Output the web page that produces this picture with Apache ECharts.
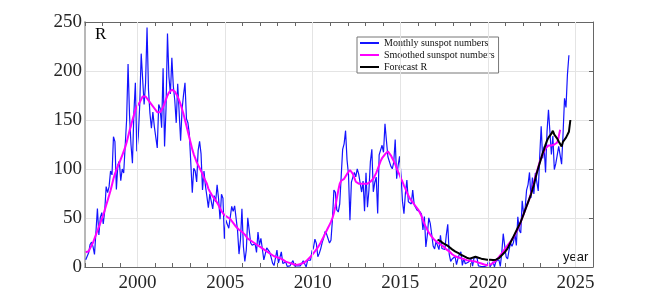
<!DOCTYPE html>
<html><head><meta charset="utf-8">
<script src="https://cdn.jsdelivr.net/npm/echarts@6/dist/echarts.min.js"></script>
<style>html,body{margin:0;padding:0;background:#fff}#c{width:654px;height:301px}</style>
</head><body><div id="c"></div>
<script>
// ---- data ----
const startYear = 1997;            // monthly & smoothed start in Jan 1997
const seriesNames = ['Monthly sunspot numbers', 'Smoothed sunspot numbers', 'Forecast R'];
const xTickLabels = [2000, 2005, 2010, 2015, 2020, 2025];
const monthly = [
  7.4, 11.0, 14.5, 23.0, 25.4, 20.8, 12.9, 35.7, 59.7, 32.8, 50.7, 55.5,          // 1997
  44.0, 57.0, 82.0, 76.0, 82.0, 98.0, 94.0, 133.0, 128.0, 79.0, 104.0, 108.0,     // 1998
  88.0, 100.0, 96.0, 95.0, 150.0, 207.0, 155.0, 125.0, 106.0, 158.0, 188.0, 118.0,// 1999
  133.1, 165.7, 217.7, 191.5, 165.9, 188.0, 244.3, 180.5, 156.7, 141.6, 158.1, 143.3, // 2000
  142.6, 121.5, 165.8, 161.7, 142.1, 202.9, 123.0, 161.5, 238.2, 194.1, 176.6, 213.4, // 2001
  184.6, 170.2, 147.1, 186.9, 187.5, 128.8, 161.0, 175.6, 187.9, 151.2, 147.2, 135.3, // 2002
  133.5, 75.7, 100.7, 97.9, 86.8, 118.7, 128.3, 115.4, 78.5, 97.8, 82.9, 72.2,    // 2003
  60.6, 74.6, 74.8, 59.2, 72.8, 66.5, 83.8, 69.7, 48.8, 74.2, 70.1, 28.9,         // 2004
  48.1, 43.5, 39.6, 38.7, 61.9, 56.8, 62.4, 60.5, 37.2, 13.2, 27.5, 59.3,         // 2005
  20.9, 5.7, 17.3, 50.3, 37.2, 24.5, 22.2, 20.8, 23.7, 14.9, 35.7, 22.3,          // 2006
  29.3, 18.4, 7.2, 5.4, 19.5, 21.3, 15.1, 9.8, 4.0, 1.5, 2.8, 17.3,               // 2007
  4.1, 2.9, 15.5, 3.6, 4.6, 5.2, 0.6, 0.3, 1.2, 4.2, 6.6, 1.0,                    // 2008
  1.3, 1.2, 0.6, 1.2, 2.9, 6.3, 5.5, 0.0, 7.1, 7.7, 6.9, 16.3,                    // 2009
  19.5, 28.5, 24.0, 10.4, 13.9, 18.8, 25.2, 29.6, 36.4, 33.6, 34.4, 24.5,         // 2010
  27.3, 48.3, 78.6, 76.1, 58.2, 56.1, 64.5, 65.8, 120.1, 125.7, 139.1, 109.3,     // 2011
  94.4, 47.8, 86.6, 85.9, 96.5, 92.0, 100.1, 94.8, 93.7, 76.5, 87.6, 56.8,        // 2012
  96.1, 60.9, 78.3, 107.3, 120.2, 76.7, 86.2, 91.8, 54.5, 114.4, 113.9, 124.2,    // 2013
  117.0, 146.1, 128.7, 112.5, 112.5, 102.9, 100.2, 106.9, 130.0, 90.0, 103.6, 112.9, // 2014
  93.0, 66.7, 54.5, 75.3, 88.8, 66.5, 65.8, 64.4, 78.6, 63.6, 62.2, 58.0,         // 2015
  57.0, 56.4, 54.1, 37.9, 51.5, 20.5, 32.4, 50.2, 44.6, 33.4, 21.4, 18.5,         // 2016
  26.1, 26.4, 17.7, 32.3, 18.9, 19.2, 17.8, 32.6, 43.6, 13.2, 5.7, 8.2,           // 2017
  6.8, 10.7, 2.5, 8.9, 13.1, 15.6, 1.6, 8.7, 3.3, 4.9, 4.9, 3.1,                  // 2018
  7.7, 0.8, 9.4, 9.1, 9.9, 1.2, 0.9, 0.5, 1.1, 0.4, 0.5, 1.5,                     // 2019
  6.2, 0.2, 1.5, 5.2, 0.2, 5.8, 6.1, 7.5, 0.6, 14.4, 34.0, 21.8,                  // 2020
  10.4, 8.2, 17.2, 24.5, 21.2, 25.0, 34.3, 22.0, 51.3, 37.4, 34.8, 67.5,          // 2021
  54.0, 59.7, 78.5, 84.1, 96.5, 70.5, 91.4, 74.6, 96.0, 95.5, 77.6, 113.1,        // 2022
  143.6, 110.9, 122.8, 96.4, 137.9, 160.5, 159.1, 114.8, 133.6, 99.4, 105.4, 114.2, // 2023
  123.0, 124.7, 104.9, 136.5, 172.1, 162.9, 196.6, 216.0                          // 2024
];
const smoothed = [
  15, 15, 16, 19, 22, 25, 29, 33, 37, 41, 45, 49,            // 1997
  53, 58, 63, 68, 73, 78, 84, 90, 95, 99, 103, 106,          // 1998
  110, 114, 118, 122, 127, 133, 139, 144, 150, 155, 160, 164,// 1999
  166, 168, 171, 174, 175, 174, 172, 170, 168, 166, 164, 162,// 2000
  160, 158, 157, 158, 160, 163, 167, 171, 175, 178, 180, 181,// 2001
  180, 179, 177, 174, 170, 166, 161, 156, 150, 144, 138, 132,// 2002
  126, 120, 115, 111, 107, 104, 101, 98, 95, 91, 88, 85,     // 2003
  80, 77, 75, 72, 70, 68, 66, 63, 60, 57, 55, 53,            // 2004
  52, 51, 50, 49, 47, 45, 43, 41, 39, 38, 37, 36,            // 2005
  35, 33, 31, 29, 28, 27, 26, 25, 24, 23, 22, 21,            // 2006
  20, 19, 18, 17, 16, 15, 14, 13, 12, 11, 10.5, 10,          // 2007
  9.5, 9, 8.5, 7.5, 6.5, 5.5, 5, 4.5, 4, 3.5, 3, 2.5,        // 2008
  2.2, 2.2, 2.5, 3, 3.5, 4, 5, 6, 7.5, 9, 10.5, 12,          // 2009
  14, 16, 18, 20, 22.5, 25, 28, 31, 34, 37, 40, 43,          // 2010
  46, 50, 55, 62, 70, 78, 85, 88, 89, 90, 92, 95,            // 2011
  97, 99, 98, 95, 91, 87, 85, 85, 85, 85, 85, 85,            // 2012
  85, 85, 86, 87, 88, 90, 92, 96, 100, 104, 108, 111,        // 2013
  113, 115, 116, 118, 117, 114, 111, 108, 105, 101, 97, 94,  // 2014
  90, 87, 83, 80, 76, 73, 70, 68, 66, 64, 62, 60,            // 2015
  58, 56, 52, 48, 44, 41, 38, 35, 33, 31, 29, 27.5,          // 2016
  26, 25, 24, 23, 22, 21, 19, 18, 17, 16, 14.5, 13,          // 2017
  12, 11, 10.5, 10, 9.5, 9, 8.5, 8, 7.5, 7, 6.8, 6.5,        // 2018
  6.2, 6, 5.8, 5.5, 5, 4.5, 4, 3.5, 3, 2.5, 2, 1.8,          // 2019
  2, 2.5, 3, 4, 5, 6.5, 8, 10, 12, 14, 16, 18,               // 2020
  20, 22, 24, 26, 28, 30, 33, 36, 39, 42, 46, 50,            // 2021
  54, 58, 62, 66, 70, 75, 80, 86, 92, 97, 102, 107,          // 2022
  111, 115, 118, 121, 123, 124, 124, 124, 124, 125, 125, 127,// 2023
  133, 140                                                   // 2024
];
const forecastStartYear = 2017, forecastStartMonth = 2;   // Feb 2017
const forecast = [
  28, 27, 26.5, 25, 24, 23, 22.5, 21, 20.5, 19, 18,          // 2017 (Feb-Dec)
  17, 16, 15, 14.5, 13.5, 12.5, 12, 11, 10, 9.5, 9, 8.5,     // 2018
  9, 9.5, 10, 10.5, 10, 9.5, 9, 8.5, 8, 8, 8, 7.5,           // 2019
  7.5, 7.5, 7.3, 7.2, 7.2, 7.5, 8, 9, 10.5, 12, 13.5, 15,    // 2020
  17, 19, 22, 25, 28, 31, 34, 37, 40, 43, 46, 50,            // 2021
  54, 58, 62, 66, 70, 74, 79, 84, 90, 96, 101, 106,          // 2022
  111, 116, 120, 125, 129, 132, 134, 136, 139, 135, 137, 131,// 2023
  128, 126, 123, 128, 126, 132, 130, 138, 150                // 2024 (Jan-Sep)
];

// ---- build ----
function toPairs(arr, y0, m0) {
  return arr.map((v, i) => [y0 + (m0 - 1 + i + 0.5) / 12, v]);
}
const serif = 'Liberation Serif, Times New Roman, serif';
const chart = echarts.init(document.getElementById('c'), null, {renderer: 'canvas'});
const xCommon = {
  type: 'value', min: 1997, max: 2026, interval: 1,
  axisLine: {show: true, onZero: false, lineStyle: {color: '#666', width: 1}},
  axisTick: {show: true, inside: true, length: 4, lineStyle: {color: '#666'}},
  splitLine: {show: false}
};
chart.setOption({
  animation: false,
  backgroundColor: '#fff',
  grid: {left: 85, top: 22, width: 508, height: 245, containLabel: false},
  title: {text: 'R', left: 95, top: 26, padding: 0,
    textStyle: {fontFamily: serif, fontSize: 17, fontWeight: 'normal', color: '#000'}},
  legend: {
    orient: 'vertical', left: 357, top: 37, padding: [0, 4, 0, 3], itemGap: 0,
    itemWidth: 19, itemHeight: 2, icon: 'rect', backgroundColor: '#fff', borderColor: '#777', borderWidth: 1,
    borderRadius: 0, selectedMode: false, data: seriesNames,
    textStyle: {fontFamily: serif, fontSize: 10, color: '#111', lineHeight: 12}
  },
  xAxis: [
    Object.assign({}, xCommon, {position: 'bottom',
      axisLabel: {show: true, margin: 7, fontFamily: serif, fontSize: 19, color: '#262626',
        formatter: v => xTickLabels.indexOf(Math.round(v)) >= 0 ? String(Math.round(v)) : ''}}),
    Object.assign({}, xCommon, {position: 'top', axisLabel: {show: false}})
  ],
  yAxis: [
    {type: 'value', min: 0, max: 250, interval: 50, position: 'left',
      axisLine: {show: true, lineStyle: {color: '#b8b8b8', width: 2}},
      axisTick: {show: false},
      axisLabel: {margin: 3, fontFamily: serif, fontSize: 19, color: '#262626'},
      splitLine: {show: true, lineStyle: {color: '#e4e4e4', width: 1}}},
    {type: 'value', min: 0, max: 250, interval: 50, position: 'right',
      axisLine: {show: true, lineStyle: {color: '#666', width: 1}},
      axisTick: {show: true, inside: true, length: 4, lineStyle: {color: '#666'}},
      axisLabel: {show: false}, splitLine: {show: false}}
  ],
  graphic: [{type: 'text', left: 563, top: 251, silent: true,
    style: {text: 'year', fill: '#111', font: '13px Liberation Sans, Arial, sans-serif'}}],
  series: [
    {name: 'grid', type: 'line', data: [], z: 1, silent: true,
      markLine: {silent: true, symbol: 'none', animation: false, label: {show: false},
        lineStyle: {color: '#e4e4e4', width: 1, type: 'solid'},
        data: xTickLabels.map(v => ({xAxis: v}))}},
    {name: seriesNames[0], type: 'line', data: toPairs(monthly, startYear, 1), symbol: 'none',
      lineStyle: {color: '#1414ff', width: 1.2}, itemStyle: {color: '#1414ff'}, z: 2},
    {name: seriesNames[1], type: 'line', data: toPairs(smoothed, startYear, 1), symbol: 'none',
      lineStyle: {color: '#ff00ff', width: 2}, itemStyle: {color: '#ff00ff'}, z: 3},
    {name: seriesNames[2], type: 'line', data: toPairs(forecast, forecastStartYear, forecastStartMonth), symbol: 'none',
      lineStyle: {color: '#000', width: 2}, itemStyle: {color: '#000'}, z: 4}
  ]
});
</script></body></html>
